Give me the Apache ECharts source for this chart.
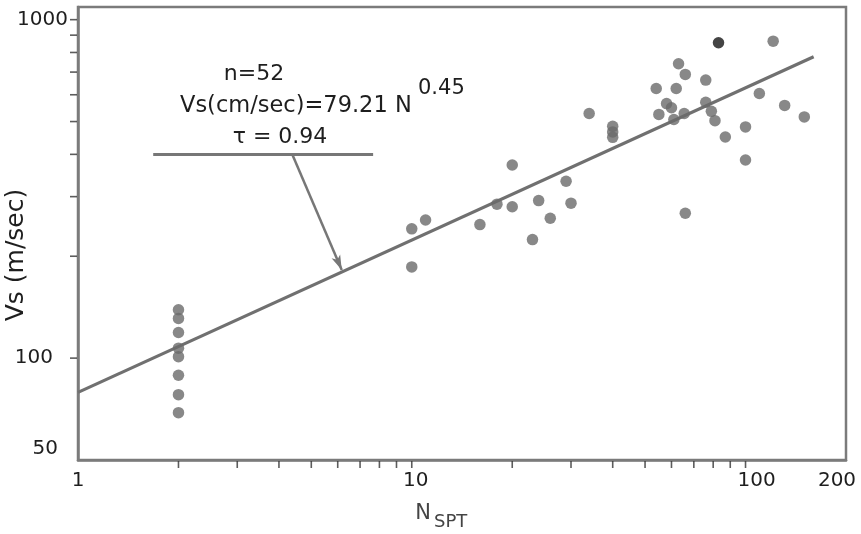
<!DOCTYPE html>
<html><head><meta charset="utf-8">
<script src="https://cdn.jsdelivr.net/npm/echarts@6/dist/echarts.min.js"></script>
<style>html,body{margin:0;padding:0;background:#fff}#c{width:861px;height:534px}</style>
</head><body><div id="c"></div>
<script>
// ---- data ----
const xRange = [1, 200];
const yRange = [50, 1090];
const xTickLabels = [1, 10, 100, 200];
const yTickLabels = [50, 100, 1000];
const xMinorTicks = [2, 3, 4, 5, 6, 7, 8, 9, 10, 20, 30, 40, 50, 60, 70, 80, 90, 100];
const yMinorTicks = [100, 200, 300, 400, 500, 600, 700, 800, 900, 1000];

const nSpt = [2, 2, 2, 2, 2, 2, 2, 2,
  121, 63, 66, 76, 54, 62, 110, 58, 60, 76, 79, 81, 131, 34, 55, 65.5, 61, 150,
  40, 40, 40, 87, 100, 100, 20, 29, 24, 30, 18, 20, 16, 26, 11, 10, 10, 23, 66];
const vs = [139, 131, 119, 107, 101, 89, 78, 69,
  864, 741, 689, 663, 626, 626, 605, 565, 549, 570, 536, 503, 558, 528, 525, 528, 507, 516,
  484, 466, 449, 450, 482, 385, 372, 333, 292, 287, 285, 280, 248, 259, 256, 241, 186, 224, 268];
const darkN = [83];
const darkVs = [855];

const fitN = [1, 160];
const fitVs = [79.21, 777];
const leaderN = [1.68, 7.66];
const leaderVs = [401, 401];
const arrowN = [4.39, 6.17];
const arrowVs = [399, 182];

// ---- chart ----
const FONT = 'DejaVu Sans';
const AX = '#7b7b7b';
const TXT = '#1e1e1e';
const chart = echarts.init(document.getElementById('c'), null, {renderer: 'canvas'});

const pts = nSpt.map((n, i) => [n, vs[i]]);
const darkPts = darkN.map((n, i) => [n, darkVs[i]]);
const fit = fitN.map((n, i) => [n, fitVs[i]]);

const lbl = (extra) => Object.assign({fontFamily: FONT, fontSize: 20, color: TXT}, extra || {});

const option = {
  backgroundColor: '#ffffff',
  animation: false,
  grid: {left: 78, right: 15, top: 7, bottom: 74, containLabel: false, outerBoundsMode: 'none',
         show: true, borderColor: AX, borderWidth: 2.5, backgroundColor: 'transparent'},
  xAxis: {
    type: 'log', logBase: 10, min: xRange[0], max: xRange[1],
    axisLine: {show: true, lineStyle: {color: AX, width: 2.5}},
    axisTick: {show: false}, splitLine: {show: false}, minorTick: {show: false},
    axisLabel: {
      show: true, margin: 11, color: TXT, fontFamily: FONT, fontSize: 20,
      showMinLabel: true, showMaxLabel: true,
      formatter: function (v) {
        const r = Math.round(v);
        if (r === 1) return '{a|1}';
        if (r === 10) return '{d|10}';
        if (r === 100) return '{b|100}';
        if (r === 200) return '{c|200}';
        return '';
      },
      rich: {
        a: lbl(),
        d: lbl({padding: [0, 0, 0, 8]}),
        b: lbl({padding: [0, 0, 0, 22]}),
        c: lbl({padding: [0, 18, 0, 0]})
      }
    }
  },
  yAxis: {
    type: 'log', logBase: 10, min: yRange[0], max: yRange[1],
    axisLine: {show: true, lineStyle: {color: AX, width: 2.5}},
    axisTick: {show: false}, splitLine: {show: false}, minorTick: {show: false},
    axisLabel: {
      show: true, margin: 10, color: TXT, fontFamily: FONT, fontSize: 20,
      showMinLabel: true, showMaxLabel: true,
      formatter: function (v) {
        const r = Math.round(v);
        if (r === 1000) return '{a|1000}';
        if (r === 100) return '{b|100}';
        if (r === 50) return '{c|50}';
        return '';
      },
      rich: {
        a: lbl(),
        b: lbl({padding: [0, 15, 0, 0]}),
        c: lbl({padding: [0, 10, 22, 0]})
      }
    }
  },
  series: [
    {
      type: 'scatter', name: 'xticks', silent: true, clip: false,
      symbol: 'rect', symbolSize: [1.6, 7], symbolOffset: [0, 4.5],
      itemStyle: {color: '#333'},
      data: xMinorTicks.map(v => [v, yRange[0]]), z: 1
    },
    {
      type: 'scatter', name: 'yticks', silent: true, clip: false,
      symbol: 'rect', symbolSize: [7, 1.6], symbolOffset: [-4.5, 0],
      itemStyle: {color: '#333'},
      data: yMinorTicks.map(v => [xRange[0], v]), z: 1
    },
    {
      type: 'line', name: 'fit', data: fit, showSymbol: false, symbol: 'none', silent: true,
      lineStyle: {color: '#707070', width: 3.2}, z: 3,
      markLine: {
        silent: true, animation: false,
        symbol: ['none', 'none'],
        label: {show: false},
        lineStyle: {color: '#777', width: 3, type: 'solid'},
        emphasis: {disabled: true},
        data: [
          [{coord: [leaderN[0], leaderVs[0]], symbol: 'none'}, {coord: [leaderN[1], leaderVs[1]], symbol: 'none'}],
          [{coord: [arrowN[0], arrowVs[0]], symbol: 'none', lineStyle: {width: 2.5}},
           {coord: [arrowN[1], arrowVs[1]], symbol: 'arrow', symbolSize: [7, 15], lineStyle: {width: 2.5}}]
        ]
      }
    },
    {
      type: 'scatter', name: 'data', data: pts, symbol: 'circle', symbolSize: 11.5,
      itemStyle: {color: '#6a6a6a'}, z: 4
    },
    {
      type: 'scatter', name: 'dark', data: darkPts, symbol: 'circle', symbolSize: 11.5,
      itemStyle: {color: '#151515'}, z: 4
    }
  ],
  graphic: [
    {type: 'text', x: 254, y: 74, style: {text: 'n=52', font: '22px "DejaVu Sans"', fill: TXT, textAlign: 'center', textVerticalAlign: 'middle'}},
    {type: 'text', x: 180, y: 106, style: {text: 'Vs(cm/sec)=79.21 N', font: '22.5px "DejaVu Sans"', fill: TXT, textAlign: 'left', textVerticalAlign: 'middle'}},
    {type: 'text', x: 418, y: 89, style: {text: '0.45', font: '21px "DejaVu Sans"', fill: TXT, textAlign: 'left', textVerticalAlign: 'middle'}},
    {type: 'text', x: 280, y: 137, style: {text: 'τ = 0.94', font: '22px "DejaVu Sans"', fill: TXT, textAlign: 'center', textVerticalAlign: 'middle'}},
    {type: 'text', x: 16, y: 255, rotation: Math.PI / 2, style: {text: 'Vs (m/sec)', font: '25px "DejaVu Sans"', fill: TXT, textAlign: 'center', textVerticalAlign: 'middle'}},
    {type: 'text', x: 423, y: 514, style: {text: 'N', font: '21px "DejaVu Sans"', fill: '#444', textAlign: 'center', textVerticalAlign: 'middle'}},
    {type: 'text', x: 434, y: 522, style: {text: 'SPT', font: '18px "DejaVu Sans"', fill: '#444', textAlign: 'left', textVerticalAlign: 'middle'}}
  ]
};
chart.setOption(option);
</script>
</body></html>
